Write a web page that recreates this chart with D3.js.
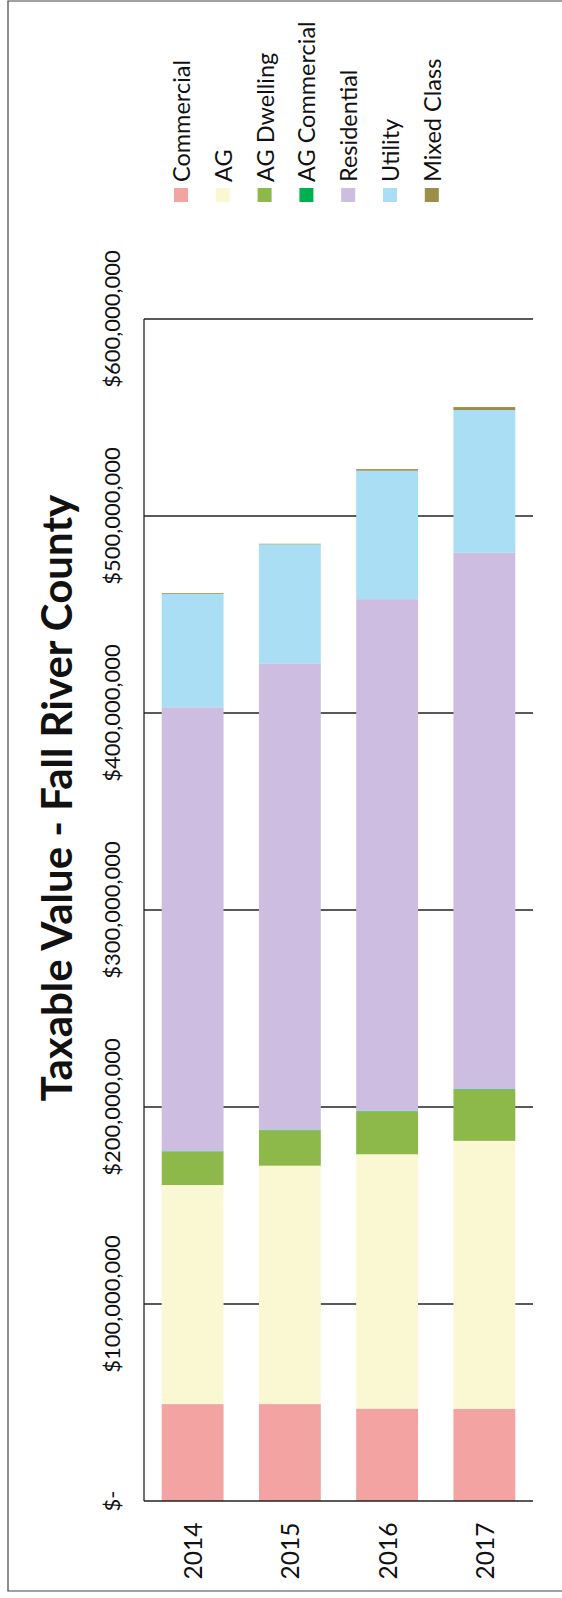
<!DOCTYPE html>
<html>
<head>
<meta charset="utf-8">
<script src="https://cdn.jsdelivr.net/npm/d3@7"></script>
<style>
  body { margin: 0; background: #fff; }
  svg { display: block; font-family: Lato, "Open Sans", sans-serif; }
</style>
</head>
<body>
<div id="chart"></div>
<script>
// data (values in dollars)
const years = ["2014", "2015", "2016", "2017"];
const categories = ["Commercial", "AG", "AG Dwelling", "AG Commercial", "Residential", "Utility", "Mixed Class"];
const commercial   = [49.2e6, 49.2e6, 46.9e6, 46.8e6];
const ag           = [111.2e6, 121.0e6, 129.1e6, 136.0e6];
const agDwelling   = [16.8e6, 18.0e6, 21.6e6, 26.0e6];
const agCommercial = [0.3e6, 0.3e6, 0.3e6, 0.3e6];
const residential  = [225.4e6, 236.7e6, 259.9e6, 272.2e6];
const utility      = [57.5e6, 60.4e6, 65.2e6, 72.5e6];
const mixedClass   = [0.4e6, 0.3e6, 0.8e6, 1.5e6];
const tickValues = [0, 1e8, 2e8, 3e8, 4e8, 5e8, 6e8];
const tickLabels = ["$-", "$100,000,000", "$200,000,000", "$300,000,000", "$400,000,000", "$500,000,000", "$600,000,000"];
const colors = ["#f4a3a3", "#f9f8d3", "#8db94a", "#00b050", "#cdbde1", "#a9def4", "#9c8d48"];

const W = 562, H = 1598;
const plot = { left: 144, right: 533, top: 319, bottom: 1501 };

const series = [commercial, ag, agDwelling, agCommercial, residential, utility, mixedClass];
const rows = years.map((y, i) => {
    const r = { year: y };
    categories.forEach((c, j) => { r[c] = series[j][i]; });
    return r;
});

const svg = d3.select("#chart").append("svg")
    .attr("width", W)
    .attr("height", H);

// page border from the scan
svg.append("path")
    .attr("d", `M${W},1 L8,1 L8,1591 L${W},1591`)
    .attr("fill", "none")
    .attr("stroke", "#444")
    .attr("stroke-width", 1.2);

const x = d3.scaleBand()
    .domain(years)
    .range([plot.left, plot.right])
    .paddingInner(0.364)
    .paddingOuter(0.182);

const y = d3.scaleLinear()
    .domain([0, 6e8])
    .range([plot.bottom, plot.top]);

// gridlines
svg.append("g")
    .selectAll("line")
    .data(tickValues.slice(1))
    .enter()
    .append("line")
    .attr("x1", plot.left)
    .attr("x2", plot.right)
    .attr("y1", d => y(d))
    .attr("y2", d => y(d))
    .attr("stroke", "#222")
    .attr("stroke-width", 1.3);

// stacked bars
const stacked = d3.stack().keys(categories)(rows);
svg.append("g")
    .selectAll("g")
    .data(stacked)
    .enter()
    .append("g")
    .attr("fill", (d, i) => colors[i])
    .selectAll("rect")
    .data(d => d)
    .enter()
    .append("rect")
    .attr("x", d => x(d.data.year))
    .attr("width", x.bandwidth())
    .attr("y", d => y(d[1]))
    .attr("height", d => y(d[0]) - y(d[1]));

// axis lines
svg.append("line")
    .attr("x1", plot.left).attr("x2", plot.left)
    .attr("y1", plot.top).attr("y2", plot.bottom)
    .attr("stroke", "#222").attr("stroke-width", 1.3);
svg.append("line")
    .attr("x1", plot.left).attr("x2", plot.right)
    .attr("y1", plot.bottom).attr("y2", plot.bottom)
    .attr("stroke", "#222").attr("stroke-width", 1.3);

// value labels (rotated)
svg.append("g")
    .selectAll("text")
    .data(tickValues)
    .enter()
    .append("text")
    .attr("transform", d => `translate(111, ${y(d)}) rotate(-90)`)
    .attr("text-anchor", "middle")
    .attr("dominant-baseline", "central")
    .attr("font-size", 22)
    .attr("fill", "#111")
    .text((d, i) => tickLabels[i]);

// year labels (rotated)
svg.append("g")
    .selectAll("text")
    .data(years)
    .enter()
    .append("text")
    .attr("transform", d => `translate(${x(d) + x.bandwidth() / 2}, 1551) rotate(-90)`)
    .attr("text-anchor", "middle")
    .attr("dominant-baseline", "central")
    .attr("font-size", 24.5)
    .attr("fill", "#111")
    .text(d => d);

// title
svg.append("text")
    .attr("transform", "translate(56, 798) rotate(-90)")
    .attr("text-anchor", "middle")
    .attr("dominant-baseline", "central")
    .attr("font-size", 42)
    .attr("font-weight", "bold")
    .attr("fill", "#111")
    .text("Taxable Value - Fall River County");

// legend
const legend = svg.append("g")
    .selectAll("g")
    .data(categories)
    .enter()
    .append("g")
    .attr("transform", (d, i) => `translate(${181 + i * 41.8}, 0)`);

legend.append("rect")
    .attr("x", -7)
    .attr("y", 188)
    .attr("width", 14)
    .attr("height", 14)
    .attr("fill", (d, i) => colors[i]);

legend.append("text")
    .attr("transform", "translate(0, 182) rotate(-90)")
    .attr("text-anchor", "start")
    .attr("dominant-baseline", "central")
    .attr("font-size", 23.5)
    .attr("fill", "#111")
    .text(d => d);
</script>
</body>
</html>
